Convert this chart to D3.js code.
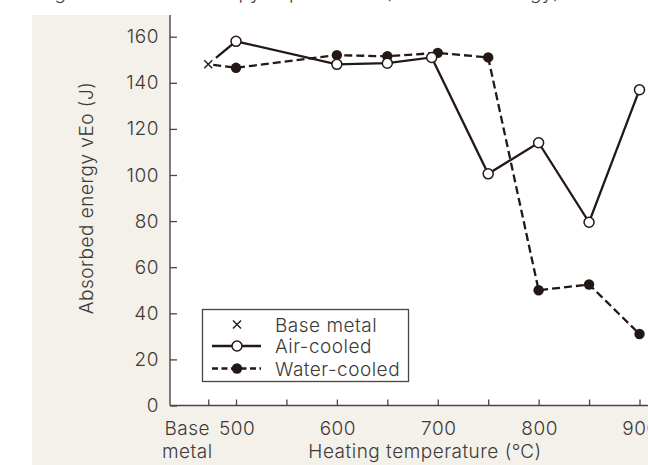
<!DOCTYPE html>
<html>
<head>
<meta charset="utf-8">
<script src="https://cdn.jsdelivr.net/npm/d3@7"></script>
<style>
  html, body { margin: 0; padding: 0; background: #ffffff; }
  svg { display: block; }
  svg text { font-family: Inter, "Liberation Sans", Arial, sans-serif; font-weight: 300; fill: #3d3a38; letter-spacing: 0.5px; }
</style>
</head>
<body>
<svg id="chart" width="648" height="465"></svg>
<script>
// Charpy absorbed energy vs. heating temperature
const baseMetalLabel = ["Base", "metal"];
const baseMetalValue = 148;

const airTemps   = [500, 600, 650, 694, 750, 800, 850, 900];
const airValues  = [158, 148, 148.5, 151, 100.5, 114, 79.5, 137];

const waterTemps  = [500, 600, 650, 700, 750, 800, 850, 900];
const waterValues = [146.5, 152, 151.5, 153, 151, 50, 52.5, 31];

const yTicks = [0, 20, 40, 60, 80, 100, 120, 140, 160];
const xMinorTicks = [500, 550, 600, 650, 700, 750, 800, 850, 900];
const xLabelTicks = [500, 600, 700, 800, 900];
const baseMetalPos = 472.5;   // axis slot used for the base-metal reference

const titleText = "Fig. 6  Results of Charpy impact tests (Absorbed energy) and fr";
const yTitle = "Absorbed energy vEo (J)";
const xTitle = "Heating temperature (\u2103)";
const legendItems = ["Base metal", "Air-cooled", "Water-cooled"];

const ink = "#231815";
const axisColor = "#4a4541";
const fs = 19;

const svg = d3.select("#chart");

const plot = { left: 170, top: 15, right: 648, bottom: 405.5 };

const x = d3.scaleLinear().domain([500, 900]).range([236, 639.5]);
const y = d3.scaleLinear().domain([0, 160]).range([405.5, 36.7]);

// panel backgrounds
svg.append("rect").attr("x", 32).attr("y", 15).attr("width", 616).attr("height", 450)
  .attr("fill", "#f4f1ea");
svg.append("rect").attr("x", plot.left).attr("y", plot.top)
  .attr("width", plot.right - plot.left).attr("height", plot.bottom - plot.top)
  .attr("fill", "#ffffff");

// title (runs off the top edge)
svg.append("text").attr("x", 38).attr("y", -1).attr("font-size", fs)
  .text(titleText);

// y axis
const yAxis = d3.axisLeft(y).tickValues(yTicks).tickSize(-7).tickPadding(12);
const gy = svg.append("g").attr("transform", `translate(${plot.left},0)`).call(yAxis)
  .attr("font-family", null).attr("font-size", fs);
gy.select(".domain").remove();
gy.selectAll(".tick line").attr("stroke", axisColor).attr("stroke-width", 1.3);
gy.selectAll(".tick text").attr("fill", "#3d3a38").attr("dx", 1);
svg.append("line").attr("x1", plot.left).attr("x2", plot.left)
  .attr("y1", plot.top).attr("y2", plot.bottom)
  .attr("stroke", axisColor).attr("stroke-width", 1.4);

// x axis
const xAxis = d3.axisBottom(x).tickValues([baseMetalPos].concat(xMinorTicks))
  .tickSize(-6).tickFormat("");
const gx = svg.append("g").attr("transform", `translate(0,${plot.bottom})`).call(xAxis);
gx.select(".domain").remove();
gx.selectAll(".tick line").attr("stroke", axisColor).attr("stroke-width", 1.3);
svg.append("line").attr("x1", plot.left).attr("x2", plot.right)
  .attr("y1", plot.bottom).attr("y2", plot.bottom)
  .attr("stroke", axisColor).attr("stroke-width", 1.4);

svg.append("g").selectAll("text").data(xLabelTicks).join("text")
  .attr("x", d => x(d) + 1).attr("y", 435).attr("text-anchor", "middle")
  .attr("font-size", fs).text(d => d);

svg.append("text").attr("x", x(baseMetalPos) - 21).attr("y", 435)
  .attr("text-anchor", "middle").attr("font-size", fs).text(baseMetalLabel[0]);
svg.append("text").attr("x", x(baseMetalPos) - 21).attr("y", 458)
  .attr("text-anchor", "middle").attr("font-size", fs).text(baseMetalLabel[1]);

svg.append("text").attr("x", 425).attr("y", 458).attr("text-anchor", "middle")
  .attr("font-size", fs).text(xTitle);

svg.append("text").attr("transform", "translate(93,198) rotate(-90)")
  .attr("text-anchor", "middle").attr("font-size", fs).text(yTitle);

// series lines, both starting from the base-metal reference point
const line = d3.line().x(d => x(d[0])).y(d => y(d[1]));
const trimStart = (pts, gap) => {
  const p0 = [x(pts[0][0]), y(pts[0][1])], p1 = [x(pts[1][0]), y(pts[1][1])];
  const len = Math.hypot(p1[0] - p0[0], p1[1] - p0[1]);
  const t = gap / len;
  const nx = x.invert(p0[0] + (p1[0] - p0[0]) * t);
  const ny = y.invert(p0[1] + (p1[1] - p0[1]) * t);
  return [[nx, ny]].concat(pts.slice(1));
};

const airPts = [[baseMetalPos, baseMetalValue]].concat(airTemps.map((t, i) => [t, airValues[i]]));
const waterPts = [[baseMetalPos, baseMetalValue]].concat(waterTemps.map((t, i) => [t, waterValues[i]]));

svg.append("path").attr("d", line(trimStart(waterPts, 5))).attr("fill", "none")
  .attr("stroke", ink).attr("stroke-width", 2.3).attr("stroke-dasharray", "8,4");
svg.append("path").attr("d", line(trimStart(airPts, 10))).attr("fill", "none")
  .attr("stroke", ink).attr("stroke-width", 2.3);

// markers
svg.append("g").selectAll("circle").data(waterTemps.map((t, i) => [t, waterValues[i]])).join("circle")
  .attr("cx", d => x(d[0])).attr("cy", d => y(d[1])).attr("r", 5.2).attr("fill", ink);
svg.append("g").selectAll("circle").data(airTemps.map((t, i) => [t, airValues[i]])).join("circle")
  .attr("cx", d => x(d[0])).attr("cy", d => y(d[1])).attr("r", 5)
  .attr("fill", "#ffffff").attr("stroke", ink).attr("stroke-width", 1.5);

const cross = (g, cx, cy, s) => {
  g.append("path").attr("d", `M${cx - s},${cy - s}L${cx + s},${cy + s}M${cx - s},${cy + s}L${cx + s},${cy - s}`)
    .attr("stroke", ink).attr("stroke-width", 1.4).attr("fill", "none");
};
cross(svg, x(baseMetalPos), y(baseMetalValue), 4);

// legend
const lg = svg.append("g");
lg.append("rect").attr("x", 202.5).attr("y", 309.5).attr("width", 206).attr("height", 72)
  .attr("fill", "#ffffff").attr("stroke", axisColor).attr("stroke-width", 1.3);
const rowY = [324.5, 346, 368.5];
cross(lg, 237, rowY[0], 4);
lg.append("line").attr("x1", 212).attr("x2", 261).attr("y1", rowY[1]).attr("y2", rowY[1])
  .attr("stroke", ink).attr("stroke-width", 2.3);
lg.append("circle").attr("cx", 237).attr("cy", rowY[1]).attr("r", 5)
  .attr("fill", "#ffffff").attr("stroke", ink).attr("stroke-width", 1.5);
lg.append("line").attr("x1", 212).attr("x2", 261).attr("y1", rowY[2]).attr("y2", rowY[2])
  .attr("stroke", ink).attr("stroke-width", 2.3).attr("stroke-dasharray", "6,3.5");
lg.append("circle").attr("cx", 237).attr("cy", rowY[2]).attr("r", 5.2).attr("fill", ink);
lg.selectAll("text.lbl").data(legendItems).join("text").attr("class", "lbl")
  .attr("x", 275).attr("y", (d, i) => rowY[i] + 7).attr("font-size", fs).text(d => d);
</script>
</body>
</html>
